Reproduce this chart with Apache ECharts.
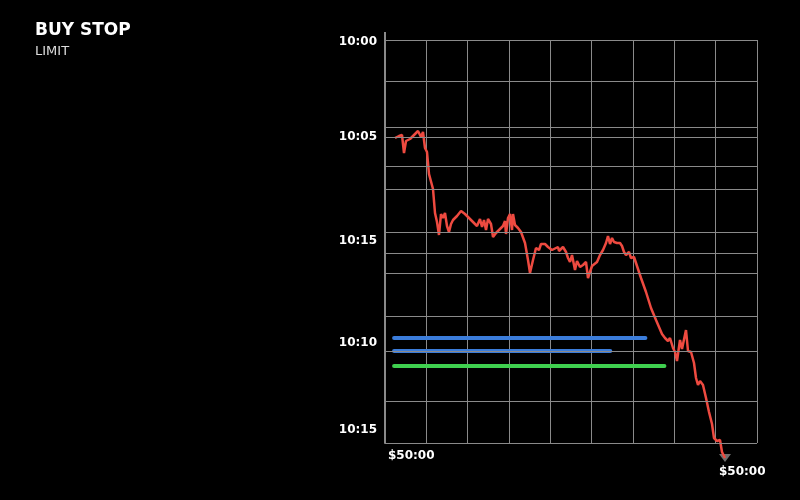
<!DOCTYPE html>
<html><head><meta charset="utf-8">
<script src="https://cdn.jsdelivr.net/npm/echarts@6/dist/echarts.min.js"></script>
<style>html,body{margin:0;background:#000}#c{width:800px;height:500px}</style>
</head><body><div id="c"></div>
<script>
// y values are in chart units (0 = top of plot, 403 = bottom), x in grid columns 0..9
const yTickPos = [2, 97, 201, 303, 390];
const yTickLabels = ['10:00', '10:05', '10:15', '10:10', '10:15'];
const hGrid = [0, 41, 87, 97, 126, 149, 192, 213, 233, 276, 311, 361, 403];
const priceXY = [[395,138],[399,136],[402,135],[404,153],[406,141],[408,142],[410,139],[412,138],[414,135],[416,134],[418,131],[420,130],[421,137],[423,132],[425,148],[427,152],[429,174],[431,172],[433,189],[435,213],[437,222],[439,235],[441,214],[443,218],[445,213],[447,226],[449,232],[451,224],[453,220],[455,221],[457,216],[459,214],[461,211],[465,214],[469,218],[473,222],[477,226],[480,219],[482,227],[484,220],[486,230],[488,219],[489,218],[491,224],[493,237],[496,233],[500,229],[503,226],[505,221],[506,234],[508,218],[510,214],[512,230],[513,214],[515,225],[518,228],[521,232],[525,243],[528,260],[530,273],[533,260],[536,248],[539,250],[541,244],[545,244],[548,247],[552,250],[554,252],[558,247],[559,251],[561,253],[563,247],[566,252],[568,258],[570,262],[572,255],[575,270],[577,261],[580,267],[583,265],[586,262],[588,278],[590,272],[592,266],[594,268],[597,262],[600,255],[603,250],[606,243],[608,236],[610,244],[612,238],[614,242],[617,243],[620,243],[622,246],[624,252],[626,255],[629,252],[631,258],[634,257],[637,266],[641,278],[646,292],[651,308],[656,320],[659,327],[662,334],[665,338],[668,341],[670,338],[673,348],[675,352],[677,361],[680,340],[682,349],[684,351],[686,330],[688,351],[691,352],[694,363],[696,378],[698,385],[700,381],[703,385],[706,398],[709,412],[712,424],[714,438],[717,441],[720,440],[722,452],[725,458]];
const blue1 = {y: 298, x0: 0.22, x1: 6.3};
const blue2 = {y: 311, x0: 0.22, x1: 5.45};
const green1 = {y: 326, x0: 0.22, x1: 6.76};
const X0 = 385, XS = 372/9, Y0 = 40;
const price = priceXY.map(p => [(p[0]-X0)/XS, p[1]-Y0]);
const hline = (o, color) => ({type:'line', data:[[o.x0,o.y],[o.x1,o.y]], symbol:'none', lineStyle:{color, width:4, cap:'round'}, silent:true});
const chart = echarts.init(document.getElementById('c'));
chart.setOption({
  backgroundColor:'#000', animation:false,
  grid:{left:385, width:372, top:40, height:403},
  xAxis:{type:'value', min:0, max:9, interval:1, axisLabel:{show:false}, axisTick:{show:false},
    axisLine:{show:false}, splitLine:{lineStyle:{color:'#8a8a8a', width:1}}},
  yAxis:{type:'value', min:0, max:403, inverse:true, splitLine:{show:false}, axisTick:{show:false},
    axisLine:{show:true, lineStyle:{color:'#8a8a8a', width:2}},
    axisLabel:{customValues:yTickPos, color:'#fff', fontWeight:'bold', fontSize:12, fontFamily:'DejaVu Sans', margin:8,
      formatter:(v)=> yTickLabels[yTickPos.indexOf(v)] || ''}},
  graphic:[
    {type:'text', left:35, top:22, style:{text:'BUY STOP', fill:'#fff', font:'bold 17px DejaVu Sans'}},
    {type:'text', left:35, top:45, style:{text:'LIMIT', fill:'#ddd', font:'13px DejaVu Sans'}},
    {type:'text', left:388, top:450, style:{text:'$50:00', fill:'#fff', font:'bold 12px DejaVu Sans'}},
    {type:'text', left:719, top:466, style:{text:'$50:00', fill:'#fff', font:'bold 12px DejaVu Sans'}},
    {type:'line', shape:{x1:385, y1:32, x2:385, y2:40}, style:{stroke:'#8a8a8a', lineWidth:2}}
  ],
  series:[
    {type:'line', data:[], markLine:{silent:true, symbol:'none', label:{show:false},
      lineStyle:{color:'#8a8a8a', width:1, type:'solid'}, data: hGrid.map(v=>({yAxis:v}))}},
    hline(blue1,'#3b7ddb'), hline(blue2,'#3b7ddb'), hline(green1,'#3fcf4f'),
    {type:'line', data:price, symbol:'none', clip:false, lineStyle:{color:'#ee4a40', width:2.5}},
    {type:'scatter', data:[price[price.length-1]], symbol:'triangle', symbolRotate:180, symbolSize:[12,8],
      itemStyle:{color:'#8a8a8a'}, clip:false}
  ]
});
</script></body></html>
